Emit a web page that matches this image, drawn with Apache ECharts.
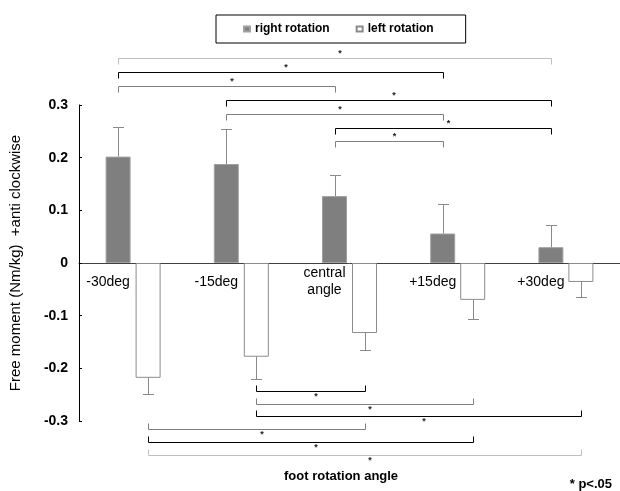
<!DOCTYPE html>
<html>
<head>
<meta charset="utf-8">
<script src="https://cdn.jsdelivr.net/npm/echarts@6/dist/echarts.min.js"></script>
<style>
html,body{margin:0;padding:0;background:#fff;}
#chart{width:620px;height:491px;}
</style>
</head>
<body>
<div id="chart"></div>
<script>
// ---- data ----
const categories = ['-30deg', '-15deg', 'central\nangle', '+15deg', '+30deg'];
const rightMean = [0.202, 0.188, 0.127, 0.056, 0.030];
const rightSD   = [0.057, 0.067, 0.041, 0.056, 0.042];
const leftMean  = [-0.218, -0.178, -0.133, -0.070, -0.036];
const leftSD    = [0.031, 0.043, 0.032, 0.037, 0.029];
const yMin = -0.3, yMax = 0.3, yStep = 0.1;
// significant pairs (category index pairs), p<.05
const rightSig = [[0, 4], [0, 3], [0, 2], [1, 4], [1, 3], [2, 4], [2, 3]];
const leftSig  = [[1, 2], [1, 3], [1, 4], [0, 2], [0, 3], [0, 4]];
const seriesNames = ['right rotation', 'left rotation'];
const xTitle = 'foot rotation angle';
const yTitle = 'Free moment (Nm/kg)  +anti clockwise';
const note = '* p<.05';

// ---- style ----
const FONT = "'Liberation Sans', Arial, sans-serif";
const BAR_W = 25;
const BAR_OFF = BAR_W * 0.6;
const GRID_H = 316;
const topColors = ['#bfbfbf', '#000000', '#7f7f7f', '#000000', '#7f7f7f', '#000000', '#7f7f7f'];
const botColors = ['#000000', '#7f7f7f', '#000000', '#7f7f7f', '#000000', '#bfbfbf'];

const chart = echarts.init(document.getElementById('chart'), null, {renderer: 'canvas'});

function crisp(v) { return Math.round(v) + 0.5; }

function errRender(sign) {
  return function (params, api) {
    const cat = api.value(0), m = api.value(1), sd = api.value(2);
    const p1 = api.coord([cat, m]);
    const p2 = api.coord([cat, m + sign * sd]);
    const x = crisp(p1[0] + (sign > 0 ? -BAR_OFF : BAR_OFF));
    const y2 = crisp(p2[1]);
    return {
      type: 'group',
      children: [
        {type: 'line', shape: {x1: x, y1: p1[1], x2: x, y2: y2}, style: {stroke: '#8a8a8a', lineWidth: 1}},
        {type: 'line', shape: {x1: x - 5.5, y1: y2, x2: x + 5.5, y2: y2}, style: {stroke: '#8a8a8a', lineWidth: 1}}
      ]
    };
  };
}

function bracketRender(side) {
  return function (params, api) {
    const from = api.value(0), to = api.value(1), lvl = params.dataIndex;
    const off = side === 'top' ? -BAR_OFF : BAR_OFF;
    const x1 = crisp(api.coord([from, 0])[0] + off);
    const x2 = crisp(api.coord([to, 0])[0] + off);
    let y, dir, color;
    if (side === 'top') {
      y = crisp(api.coord([0, yMax])[1] - 47 + lvl * 13.9);
      dir = 1; color = topColors[lvl];
    } else {
      y = crisp(api.coord([0, yMin])[1] - 30 + lvl * 12.7);
      dir = -1; color = botColors[lvl];
    }
    return {
      type: 'group',
      children: [
        {type: 'polyline', shape: {points: [[x1, y + dir * 6], [x1, y], [x2, y], [x2, y + dir * 6]]},
          style: {stroke: color, lineWidth: 1, fill: null}},
        {type: 'text', style: {text: '*', x: (x1 + x2) / 2 + 5, y: side === 'top' ? y - 5 : y + 5,
          align: 'center', verticalAlign: 'middle', font: 'bold 9px ' + FONT, fill: '#222'}}
      ]
    };
  };
}

const option = {
  animation: false,
  backgroundColor: '#fff',
  grid: {left: 79, top: 105, height: GRID_H, width: 550, containLabel: false},
  legend: {
    data: seriesNames,
    left: 216, top: 15,
    padding: [8, 32, 8, 27],
    itemGap: 26, itemWidth: 6, itemHeight: 5,
    icon: 'rect',
    borderColor: '#000', borderWidth: 1, borderRadius: 0,
    textStyle: {fontFamily: FONT, fontSize: 12, fontWeight: 'bold', color: '#000'}
  },
  xAxis: {
    type: 'category',
    data: categories,
    offset: -GRID_H * (0 - yMin) / (yMax - yMin),
    axisLine: {onZero: false, lineStyle: {color: '#404040', width: 1}},
    axisTick: {show: false},
    axisLabel: {
      interval: 0, margin: 19, verticalAlign: 'middle', align: 'center',
      padding: [0, 50, 0, 0], lineHeight: 17,
      fontFamily: FONT, fontSize: 14, color: '#000'
    }
  },
  yAxis: {
    type: 'value', min: yMin, max: yMax, interval: yStep,
    name: yTitle, nameLocation: 'middle', nameRotate: 90, nameGap: 56,
    nameTextStyle: {fontFamily: FONT, fontSize: 15, color: '#000'},
    axisLine: {show: true, lineStyle: {color: '#000', width: 1}},
    axisTick: {show: true, inside: true, length: 3, lineStyle: {color: '#000'}},
    splitLine: {show: false},
    axisLabel: {margin: 11, fontFamily: FONT, fontSize: 14, fontWeight: 'bold', color: '#000'}
  },
  graphic: [
    {type: 'text', left: 284, top: 470, style: {text: xTitle, font: 'bold 13px ' + FONT, fill: '#000'}},
    {type: 'text', right: 8, top: 478, style: {text: note, font: 'bold 13px ' + FONT, fill: '#000'}}
  ],
  series: [
    {
      name: seriesNames[0], type: 'bar', data: rightMean, barWidth: BAR_W, barGap: '20%',
      itemStyle: {color: '#7f7f7f', borderColor: '#a0a0a0', borderWidth: 1}
    },
    {
      name: seriesNames[1], type: 'bar', data: leftMean, barWidth: BAR_W, barGap: '20%',
      itemStyle: {color: '#ffffff', borderColor: '#8c8c8c', borderWidth: 1}
    },
    {
      type: 'custom', name: 'errR', renderItem: errRender(1), z: 5,
      encode: {x: 0, y: 1},
      data: rightMean.map((m, i) => [i, m, rightSD[i]])
    },
    {
      type: 'custom', name: 'errL', renderItem: errRender(-1), z: 5,
      encode: {x: 0, y: 1},
      data: leftMean.map((m, i) => [i, m, leftSD[i]])
    },
    {
      type: 'custom', name: 'sigTop', renderItem: bracketRender('top'), z: 5, clip: false,
      encode: {x: [0, 1], y: -1},
      data: rightSig.map(p => [p[0], p[1]])
    },
    {
      type: 'custom', name: 'sigBottom', renderItem: bracketRender('bottom'), z: 5, clip: false,
      encode: {x: [0, 1], y: -1},
      data: leftSig.map(p => [p[0], p[1]])
    }
  ]
};
chart.setOption(option);
</script>
</body>
</html>
